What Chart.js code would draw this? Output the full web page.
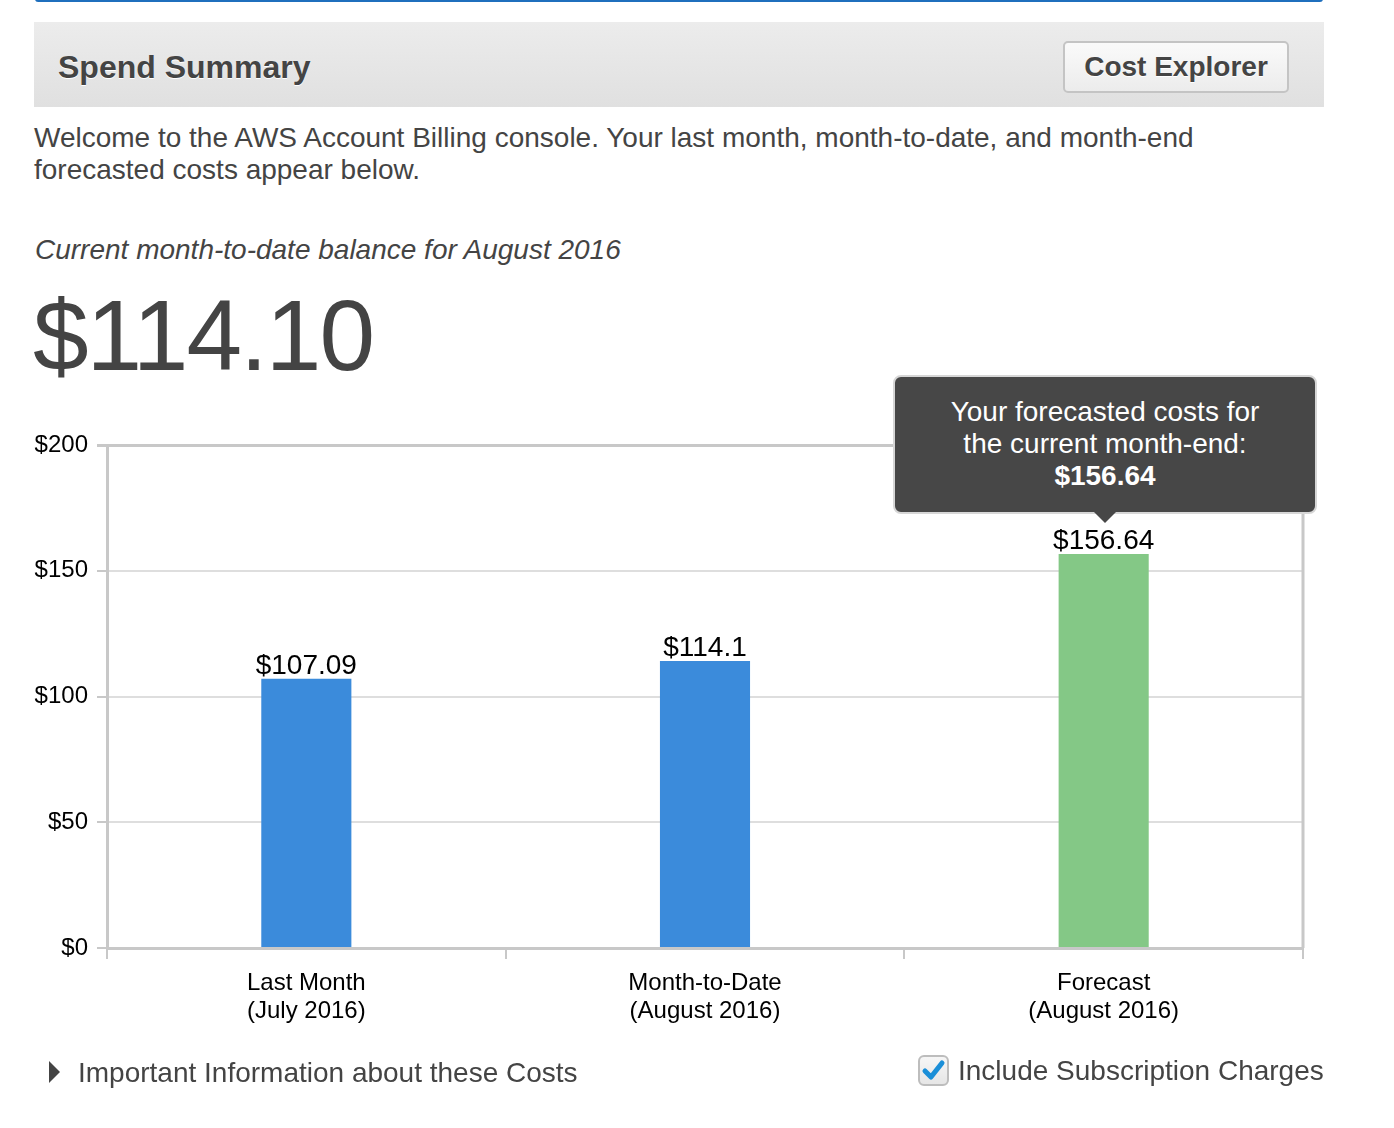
<!DOCTYPE html>
<html>
<head>
<meta charset="utf-8">
<title>Spend Summary</title>
<script src="https://cdn.jsdelivr.net/npm/chart.js@4.4.1/dist/chart.umd.min.js"></script>
<style>
    html, body { margin: 0; padding: 0; background: #fff; }
    body { width: 1394px; height: 1128px; position: relative; overflow: hidden;
           font-family: "Liberation Sans", Arial, Helvetica, sans-serif; color: #444; }
    .abs { position: absolute; white-space: nowrap; }
    #topline { left: 35px; top: -4px; width: 1288px; height: 6px; background: #1f6fbd; border-radius: 4px; }
    #header { left: 34px; top: 22px; width: 1290px; height: 85px;
              background: linear-gradient(#ececec, #e0e0e0); }
    #title { left: 58px; top: 47px; font-size: 32px; line-height: 40px; font-weight: bold;
             color: #444; text-shadow: 0 1px 0 #fff; }
    #btn { left: 1063px; top: 41px; width: 222px; height: 48px; border: 2px solid #c4c4c4; border-radius: 5px;
           background: linear-gradient(#fafafa, #ececec); font-size: 28px; font-weight: bold; color: #444;
           line-height: 48px; text-align: center; text-shadow: 0 1px 0 #fff; }
    #welcome { left: 34px; top: 122px; font-size: 28px; line-height: 32px; }
    #subtitle { left: 35px; top: 234px; font-size: 28px; line-height: 32px; font-style: italic; }
    #balance { left: 33px; top: 285px; font-size: 100px; line-height: 100px; letter-spacing: -2px; }
    #chart-wrap { left: 0; top: 0; width: 1394px; height: 1128px; }
    #tip { left: 893px; top: 375px; background: #474747; border: 2px solid #d6d6d6;
           border-radius: 8px; color: #fff; font-size: 28px; line-height: 32px; text-align: center;
           padding-top: 19px; box-sizing: border-box; width: 424px; height: 139px; }
    #tip b { display: block; }
    #tip-arrow { left: 1094px; top: 512px; width: 0; height: 0; border-left: 11px solid transparent;
                 border-right: 11px solid transparent; border-top: 11px solid #474747; }
    #tri { left: 49px; top: 1061px; width: 0; height: 0; border-top: 11px solid transparent;
           border-bottom: 11px solid transparent; border-left: 11px solid #444; }
    #info { left: 78px; top: 1057px; font-size: 28px; line-height: 32px; }
    #cbox { left: 918px; top: 1055px; width: 27px; height: 27px; border: 2px solid #bdbdbd; border-radius: 6px;
            background: linear-gradient(#f6f6f6, #e6e6e6); }
    #subs { left: 958px; top: 1055px; font-size: 28px; line-height: 32px; }
</style>
</head>
<body>
<div class="abs" id="topline"></div>
<div class="abs" id="header"></div>
<div class="abs" id="title">Spend Summary</div>
<div class="abs" id="btn">Cost Explorer</div>
<div class="abs" id="welcome">Welcome to the AWS Account Billing console. Your last month, month-to-date, and month-end<br>forecasted costs appear below.</div>
<div class="abs" id="subtitle">Current month-to-date balance for August 2016</div>
<div class="abs" id="balance">$114.10</div>

<div class="abs" id="chart-wrap"><canvas id="spend-chart" width="1394" height="1128"></canvas></div>

<div class="abs" id="tip">Your forecasted costs for<br>the current month-end:<b>$156.64</b></div>
<div class="abs" id="tip-arrow"></div>

<div class="abs" id="tri"></div>
<div class="abs" id="info">Important Information about these Costs</div>
<div class="abs" id="cbox">
    <svg width="27" height="27" viewBox="0 0 27 27"><path d="M5 14 L11 20 L22 6" fill="none" stroke="#1b8fd8" stroke-width="5" stroke-linecap="round" stroke-linejoin="round"/></svg>
</div>
<div class="abs" id="subs">Include Subscription Charges</div>

<script>
(function () {
    "use strict";

    // chart data
    const categories = [["Last Month", "(July 2016)"], ["Month-to-Date", "(August 2016)"], ["Forecast", "(August 2016)"]];
    const spend = [107.09, 114.1, 156.64];
    const barColors = ["#3b8bdb", "#3b8bdb", "#84c886"];
    const yTicks = [0, 50, 100, 150, 200];

    const axisGray = "#c8c8c8";
    const gridGray = "#dedede";
    const labelFont = { family: '"Liberation Sans", Arial, sans-serif', size: 24, lineHeight: 1.17 };

    window.addEventListener("load", init);

    function init() {
        setupChart();
    }

    // dollar values drawn above each bar
    const valueLabels = {
        id: "valueLabels",
        afterDatasetsDraw(chart) {
            let ctx = chart.ctx;
            let meta = chart.getDatasetMeta(0);
            ctx.save();
            ctx.font = '28px "Liberation Sans", Arial, sans-serif';
            ctx.fillStyle = "#000";
            ctx.textAlign = "center";
            ctx.textBaseline = "alphabetic";
            meta.data.forEach((bar, i) => {
                ctx.fillText("$" + spend[i], bar.x, bar.y - 5);
            });
            ctx.restore();
        }
    };

    // right edge of the plot frame
    const frameRight = {
        id: "frameRight",
        beforeDatasetsDraw(chart) {
            let a = chart.chartArea;
            let ctx = chart.ctx;
            ctx.save();
            ctx.strokeStyle = axisGray;
            ctx.lineWidth = 3;
            ctx.beginPath();
            ctx.moveTo(a.right, a.top);
            ctx.lineTo(a.right, a.bottom);
            ctx.stroke();
            ctx.restore();
        }
    };

    function setupChart() {
        new Chart(document.getElementById("spend-chart"), {
            type: "bar",
            data: {
                labels: categories,
                datasets: [{
                    data: spend,
                    backgroundColor: barColors,
                    borderWidth: 0,
                    barPercentage: 0.226,
                    categoryPercentage: 1
                }]
            },
            options: {
                animation: false,
                responsive: false,
                devicePixelRatio: 1,
                events: [],
                layout: { padding: { top: 445, right: 91, left: 0, bottom: 0 } },
                plugins: {
                    legend: { display: false },
                    tooltip: { enabled: false }
                },
                scales: {
                    y: {
                        min: 0,
                        max: 200,
                        afterFit: s => { s.width = 107; },
                        afterBuildTicks: s => { s.ticks = yTicks.map(v => ({ value: v })); },
                        ticks: {
                            color: "#000",
                            font: labelFont,
                            padding: 9,
                            callback: v => "$" + v
                        },
                        grid: {
                            color: c => (c.tick && c.tick.value === 200) ? axisGray : gridGray,
                            lineWidth: c => (c.tick && c.tick.value === 200) ? 3 : 2,
                            tickColor: axisGray,
                            tickLength: 10
                        },
                        border: { display: true, color: axisGray, width: 3 }
                    },
                    x: {
                        afterFit: s => { s.height = 180; },
                        ticks: {
                            color: "#000",
                            font: labelFont,
                            padding: 10,
                            maxRotation: 0
                        },
                        grid: {
                            offset: true,
                            drawOnChartArea: false,
                            color: axisGray,
                            lineWidth: 2,
                            tickLength: 11
                        },
                        border: { display: true, color: axisGray, width: 3 }
                    }
                }
            },
            plugins: [frameRight, valueLabels]
        });
    }
})();
</script>
</body>
</html>
